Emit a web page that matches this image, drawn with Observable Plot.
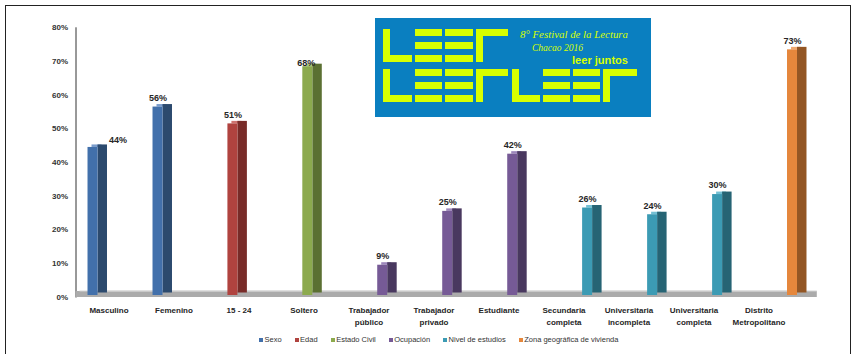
<!DOCTYPE html>
<html><head><meta charset="utf-8">
<script src="https://cdn.jsdelivr.net/npm/d3@7"></script>
<script src="https://cdn.jsdelivr.net/npm/@observablehq/plot@0.6"></script>
<style>
body{margin:0;background:#fff;}
#wrap{position:relative;width:854px;height:354px;overflow:hidden;font-family:"Liberation Sans",Arial,sans-serif;}
#frame{position:absolute;left:5px;top:5px;width:846px;height:420px;border:1px solid #222;box-sizing:border-box;}
#chart{position:absolute;left:0;top:0;}
#logo{position:absolute;left:375px;top:18px;width:276px;height:99px;}
#legend{position:absolute;left:259px;top:335px;display:flex;gap:13px;font-size:7.5px;line-height:9px;color:#333;white-space:nowrap;}
#legend span.sw{display:inline-block;width:4px;height:4px;margin-right:1.5px;vertical-align:0px;}
</style></head>
<body>
<div id="wrap">
  <div id="frame"></div>
  <div id="chart"></div>
  <div id="logo"></div>
  <div id="legend"></div>
</div>
<script>
// ---- data ----
const categories = ["Masculino","Femenino","15 - 24","Soltero","Trabajador\npúblico","Trabajador\nprivado","Estudiante","Secundaria\ncompleta","Universitaria\nincompleta","Universitaria\ncompleta","Distrito\nMetropolitano"];
const values = [0.44,0.56,0.51,0.68,0.09,0.25,0.42,0.26,0.24,0.30,0.73];
const groups = ["Sexo","Sexo","Edad","Estado Civil","Ocupación","Ocupación","Ocupación","Nivel de estudios","Nivel de estudios","Nivel de estudios","Zona geográfica de vivienda"];
const seriesNames = ["Sexo","Edad","Estado Civil","Ocupación","Nivel de estudios","Zona geográfica de vivienda"];
const yTicks = [0,0.1,0.2,0.3,0.4,0.5,0.6,0.7,0.8];

// ---- styles ----
const frontColors = ["#4270ab","#b0433f","#8caa4e","#765a96","#3c9bb4","#e5873c"];
const sideColors  = ["#2c4a6e","#782b28","#5b7032","#49385f","#266474","#935624"];
const topColors   = ["#7a9ccc","#cf7470","#adc67a","#9c86bb","#74c0d4","#f0aa70"];

const rows = categories.map((c,i)=>({cat:c, value:values[i], group:groups[i], k:seriesNames.indexOf(groups[i])}));

const W = 854, H = 330;
const mL = 75.5, mR = 63.2;
const step = (W - mL - mR) / categories.length;
const pct = d => Math.round(d.value*100) + "%";

const marks = [
  Plot.ruleY([0], {stroke:"#ababab", strokeWidth:6, dy:-3}),
  Plot.ruleY([0], {stroke:"#ababab", strokeWidth:6, dy:-3, dx:26}),
  Plot.ruleY([0], {stroke:"#d4d4d4", strokeWidth:1, dy:-6, dx:4}),
  Plot.ruleY([0], {stroke:"#d4d4d4", strokeWidth:1, dy:-6, dx:26})
];

seriesNames.forEach((s,k)=>{
  const data = rows.filter(d=>d.k===k);
  const off = -16 + 9.9*k;
  const in10 = (step-10)/2, in95 = (step-9.5)/2;
  marks.push(Plot.barY(data,{x:"cat", y1:"value", y2:"value", insetTop:-2.5, insetLeft:in10, insetRight:in10, dx:off+4, dy:-1.5, fill:topColors[k]}));
  marks.push(Plot.barY(data,{x:"cat", y:"value", insetLeft:in95, insetRight:in95, dx:off+9.75, dy:-4, fill:sideColors[k]}));
  marks.push(Plot.barY(data,{x:"cat", y:"value", insetLeft:in10, insetRight:in10, dx:off, dy:-1.5, fill:frontColors[k]}));
  const normal = data.filter(d=>d.cat!=="Masculino" && d.cat!=="Soltero");
  marks.push(Plot.text(normal,{x:"cat", y:"value", text:pct, dx:off, dy:-10.5, fontSize:9, fill:"#262626"}));
  const masc = data.filter(d=>d.cat==="Masculino");
  marks.push(Plot.text(masc,{x:"cat", y:"value", text:pct, dx:off+25, dy:-9, fontSize:9, fill:"#262626"}));
  const solt = data.filter(d=>d.cat==="Soltero");
  marks.push(Plot.text(solt,{x:"cat", y:"value", text:pct, dx:off-1.5, dy:-5.5, fontSize:9, fill:"#262626"}));
});

marks.push(Plot.text(rows,{x:"cat", frameAnchor:"bottom", text:"cat", lineAnchor:"top", dy:8.5, lineHeight:1.4, fontSize:8, fill:"#262626"}));

const chart = Plot.plot({
  width: W, height: H,
  marginLeft: mL, marginRight: mR, marginTop: 27.3, marginBottom: 33.5,
  x: {domain: categories, padding: 0, axis: null},
  y: {domain: [0, 0.8], ticks: yTicks, tickFormat: d3.format(".0%"), tickSize: 0, tickPadding: 8, label: null, line: true},
  style: {fontFamily: "'Liberation Sans', Arial, sans-serif", fontSize: "8px", fontWeight: "bold", color: "#333", background: "transparent", overflow: "visible"},
  marks
});
document.getElementById("chart").appendChild(chart);
// grey axis line
chart.querySelectorAll('[aria-label^="y-axis"] path, [aria-label^="y-axis"] line').forEach(el=>{el.setAttribute("stroke","#8c8c8c");});

// ---- legend ----
const leg = document.getElementById("legend");
seriesNames.forEach((s,k)=>{
  const it = document.createElement("div");
  it.innerHTML = `<span class="sw" style="background:${frontColors[k]}"></span>${s}`;
  leg.appendChild(it);
});

// ---- logo (decorative image) ----
const ns = "http://www.w3.org/2000/svg";
const lsvg = document.createElementNS(ns,"svg");
lsvg.setAttribute("width",276); lsvg.setAttribute("height",99);
const yel = "#d8ff00";
function r(x,y,w,h){const e=document.createElementNS(ns,"rect");e.setAttribute("x",x);e.setAttribute("y",y);e.setAttribute("width",w);e.setAttribute("height",h);e.setAttribute("fill",yel);lsvg.appendChild(e);}
const bg=document.createElementNS(ns,"rect");bg.setAttribute("width",276);bg.setAttribute("height",99);bg.setAttribute("fill","#0a7fc0");lsvg.appendChild(bg);
function L(x,y,w){r(x,y,7,33);r(x,y+26,w,7);}
function E(x,y,w){r(x,y,w,7);r(x,y+13,w,7);r(x,y+26,w,7);}
function R(x,y,w){r(x,y,7,33);r(x,y,w,7);}
L(8,11,29);E(40,11,27);E(70,11,28);R(101,11,32);
L(8,51,29);E(40,51,27);E(70,51,28);R(101,51,32);L(137,51,28);E(168,51,27);E(198,51,27);R(228,51,34);
function t(str,x,y,opts){const e=document.createElementNS(ns,"text");e.setAttribute("x",x);e.setAttribute("y",y);for(const k in opts)e.setAttribute(k,opts[k]);e.setAttribute("fill",yel);e.textContent=str;lsvg.appendChild(e);}
t("8° Festival de la Lectura",145,20,{"font-family":"Liberation Serif","font-style":"italic","font-size":10,"textLength":108,"lengthAdjust":"spacingAndGlyphs"});
t("Chacao 2016",157,32.5,{"font-family":"Liberation Serif","font-style":"italic","font-size":10,"textLength":51,"lengthAdjust":"spacingAndGlyphs"});
t("leer juntos",197,45.5,{"font-family":"Liberation Sans","font-weight":"bold","font-size":11,"textLength":56,"lengthAdjust":"spacingAndGlyphs"});
document.getElementById("logo").appendChild(lsvg);
</script>
</body></html>
